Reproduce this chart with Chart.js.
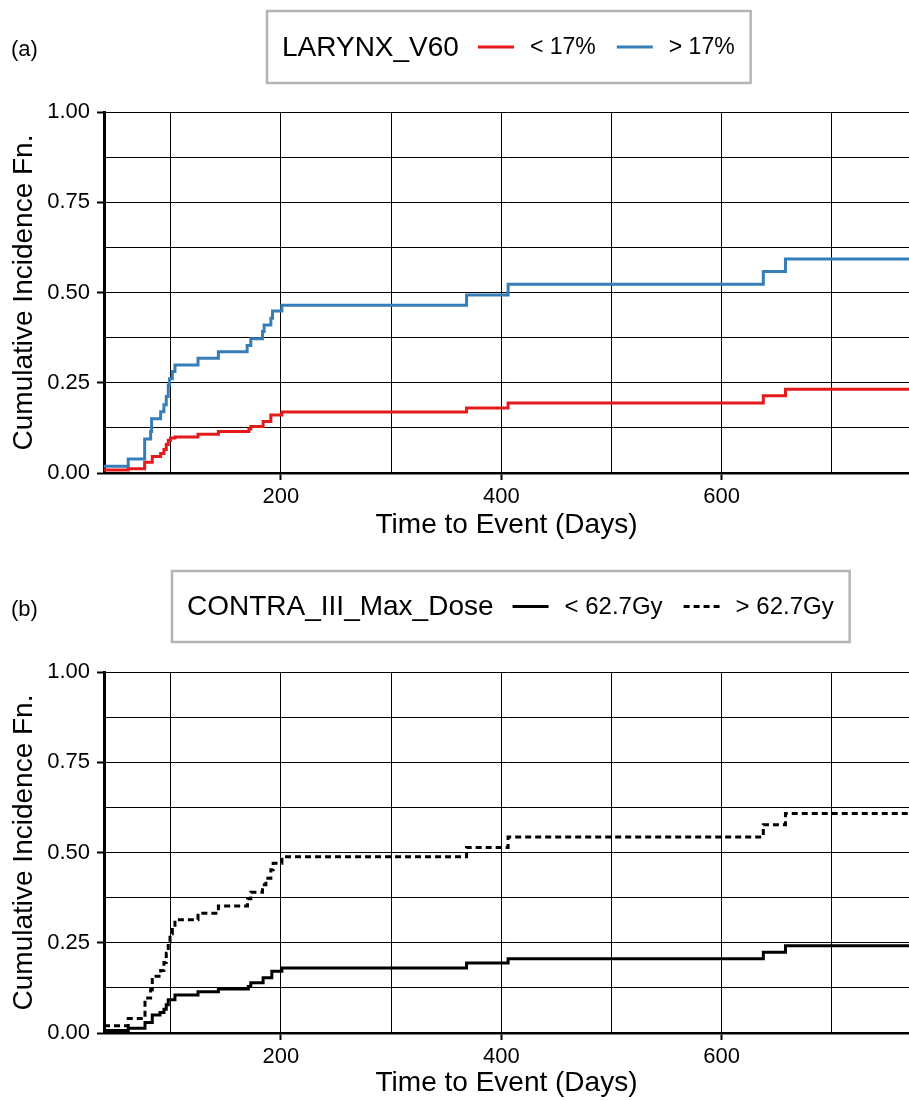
<!DOCTYPE html>
<html lang="en">
<head>
<meta charset="UTF-8">
<title>Cumulative Incidence</title>
<script src="https://cdn.jsdelivr.net/npm/chart.js"></script>
<style>
  body {
    margin: 0;
    background: #fff;
  }
  .panel {
    width: 909px;
    height: 550px;
  }
</style>
</head>
<body>
<div class="panel"><canvas id="chartA" width="909" height="550"></canvas></div>
<div class="panel"><canvas id="chartB" width="909" height="550"></canvas></div>
<script>
// axis ranges and ticks
const xMin = 39.5, xMax = 770;
const xGrid = [100, 200, 300, 400, 500, 600, 700];
const xLabels = [200, 400, 600];
const yGrid = [0, 0.125, 0.25, 0.375, 0.5, 0.625, 0.75, 0.875, 1];
const yLabels = [0, 0.25, 0.5, 0.75, 1];

// (a) LARYNX_V60
const larynxLowDays = [39.5, 61.5, 76.4, 83.3, 90.9, 93.9, 96, 97.8, 99.9, 103.9, 124.8, 143.3, 171, 172.7, 183.9, 190.9, 200.9, 368.5, 406.2, 637.8, 657.9, 770];
const larynxLowCif  = [0.008, 0.012, 0.030, 0.046, 0.054, 0.065, 0.079, 0.091, 0.097, 0.100, 0.107, 0.115, 0.122, 0.129, 0.143, 0.161, 0.169, 0.180, 0.194, 0.214, 0.232, 0.232];
const larynxHighDays = [39.5, 61.5, 76.4, 81.8, 82.7, 90.9, 93.9, 96, 97.8, 99, 101.5, 103.9, 124.8, 143.3, 169.4, 172.7, 183.3, 184.8, 190.9, 192.4, 200.9, 368.5, 406.2, 637.8, 657.9, 770];
const larynxHighCif  = [0.019, 0.039, 0.094, 0.115, 0.150, 0.170, 0.189, 0.212, 0.244, 0.261, 0.281, 0.299, 0.318, 0.336, 0.353, 0.372, 0.392, 0.410, 0.429, 0.449, 0.465, 0.493, 0.523, 0.558, 0.593, 0.593];

// (b) CONTRA_III_Max_Dose
const contraLowDays = [39.5, 61.5, 76.7, 83.3, 90.3, 93.9, 96, 97.8, 103.9, 124.8, 143.3, 170.5, 172.7, 183.9, 191.8, 200.9, 368.5, 406.2, 637.8, 657.9, 770];
const contraLowCif  = [0.007, 0.013, 0.029, 0.050, 0.057, 0.066, 0.078, 0.092, 0.105, 0.114, 0.122, 0.129, 0.139, 0.153, 0.171, 0.180, 0.194, 0.206, 0.224, 0.242, 0.242];
const contraHighDays = [39.5, 61.5, 76.7, 81.8, 83.3, 90.9, 93.9, 96, 97.8, 99.4, 101.5, 103.9, 124.8, 143.3, 169.7, 172.7, 183.3, 186.4, 190.9, 193, 200.9, 368.5, 406.2, 637.8, 657.9, 770];
const contraHighCif  = [0.020, 0.040, 0.097, 0.120, 0.157, 0.173, 0.195, 0.221, 0.253, 0.275, 0.291, 0.314, 0.332, 0.352, 0.372, 0.390, 0.411, 0.429, 0.452, 0.470, 0.488, 0.514, 0.543, 0.577, 0.608, 0.608];

const FONT = '"Liberation Sans", Arial, sans-serif';
const NONE = 'rgba(0,0,0,0)';
Chart.defaults.font.family = FONT;
Chart.defaults.color = '#000';

function toPoints(days, cif) {
  return days.map((d, i) => ({ x: d, y: cif[i] }));
}

// boxed legend drawn on top, like the ggplot one
const boxLegend = {
  id: 'boxLegend',
  afterDraw(chart, args, opts) {
    const ctx = chart.ctx;
    ctx.save();
    ctx.fillStyle = '#000';
    ctx.textBaseline = 'middle';
    ctx.font = '22px ' + FONT;
    ctx.fillText(opts.tag, 11, opts.tagY);

    const cy = opts.top + opts.height / 2;
    const items = chart.data.datasets;
    ctx.font = opts.titleSize + 'px ' + FONT;
    const tw = ctx.measureText(opts.title).width;
    ctx.font = opts.labelSize + 'px ' + FONT;
    const lw = items.map(d => ctx.measureText(d.label).width);
    let w = 15 + tw + 19 + 16;
    lw.forEach((v, i) => { w += 36 + 16 + v + (i < lw.length - 1 ? 21 : 0); });

    ctx.strokeStyle = '#b5b5b5';
    ctx.lineWidth = 2.5;
    ctx.strokeRect(opts.left, opts.top, w, opts.height);

    let x = opts.left + 15;
    ctx.font = opts.titleSize + 'px ' + FONT;
    ctx.fillText(opts.title, x, cy + 1);
    x += tw + 19;
    ctx.font = opts.labelSize + 'px ' + FONT;
    items.forEach((d, i) => {
      ctx.beginPath();
      ctx.strokeStyle = d.borderColor;
      ctx.lineWidth = 3;
      ctx.setLineDash(d.borderDash || []);
      ctx.moveTo(x, cy);
      ctx.lineTo(x + 36, cy);
      ctx.stroke();
      ctx.setLineDash([]);
      x += 36 + 16;
      ctx.fillText(d.label, x, cy + 1);
      x += lw[i] + 21;
    });
    ctx.restore();
  }
};

function makeChart(id, datasets, legendOpts, layout) {
  const ctx = document.getElementById(id).getContext('2d');
  return new Chart(ctx, {
    type: 'line',
    data: { datasets: datasets },
    options: {
      responsive: false,
      animation: false,
      layout: { padding: { top: layout.top, left: 0, right: 0, bottom: 0 } },
      plugins: {
        legend: { display: false },
        tooltip: { enabled: false },
        boxLegend: legendOpts
      },
      elements: { point: { radius: 0 } },
      scales: {
        x: {
          type: 'linear',
          min: xMin,
          max: xMax,
          afterBuildTicks: s => { s.ticks = xGrid.map(v => ({ value: v })); },
          afterFit: s => { s.height = layout.xHeight; },
          ticks: {
            autoSkip: false,
            maxRotation: 0,
            padding: 4,
            color: '#000',
            font: { size: 22 },
            callback: v => xLabels.includes(v) ? String(v) : ''
          },
          grid: {
            color: '#000',
            lineWidth: 1,
            tickLength: 7,
            tickWidth: 2,
            tickColor: c => (c.tick && xLabels.includes(c.tick.value)) ? '#000' : NONE
          },
          border: { color: '#000', width: 2.5 },
          title: {
            display: true,
            text: 'Time to Event (Days)',
            color: '#000',
            font: { size: 28 },
            padding: { top: 0, bottom: layout.xTitlePad }
          }
        },
        y: {
          min: 0,
          max: 1,
          afterBuildTicks: s => { s.ticks = yGrid.map(v => ({ value: v })); },
          afterFit: s => { s.width = 104; },
          ticks: {
            padding: 7,
            color: '#000',
            font: { size: 22 },
            callback: v => yLabels.includes(v) ? v.toFixed(2) : ''
          },
          grid: {
            color: '#000',
            lineWidth: 1,
            tickLength: 7,
            tickWidth: 2,
            tickColor: c => (c.tick && yLabels.includes(c.tick.value)) ? '#000' : NONE
          },
          border: { color: '#000', width: 3 },
          title: {
            display: true,
            text: 'Cumulative Incidence Fn.',
            color: '#000',
            font: { size: 28 },
            padding: { top: 7, bottom: 0 }
          }
        }
      }
    },
    plugins: [boxLegend]
  });
}

makeChart('chartA', [
  {
    label: '< 17%',
    data: toPoints(larynxLowDays, larynxLowCif),
    borderColor: '#e41a1c',
    borderWidth: 3,
    stepped: true,
    fill: false
  },
  {
    label: '> 17%',
    data: toPoints(larynxHighDays, larynxHighCif),
    borderColor: '#377eb8',
    borderWidth: 3,
    stepped: true,
    fill: false
  }
], { tag: '(a)', tagY: 50, title: 'LARYNX_V60', titleSize: 28, labelSize: 23, left: 267, top: 11, height: 72 },
   { top: 112, xHeight: 77, xTitlePad: 8 });

makeChart('chartB', [
  {
    label: '< 62.7Gy',
    data: toPoints(contraLowDays, contraLowCif),
    borderColor: '#000',
    borderWidth: 3,
    stepped: true,
    fill: false
  },
  {
    label: '> 62.7Gy',
    data: toPoints(contraHighDays, contraHighCif),
    borderColor: '#000',
    borderWidth: 3,
    borderDash: [6, 4],
    stepped: true,
    fill: false
  }
], { tag: '(b)', tagY: 60, title: 'CONTRA_III_Max_Dose', titleSize: 28, labelSize: 24, left: 172, top: 21, height: 71 },
   { top: 122, xHeight: 67, xTitlePad: 0 });
</script>
</body>
</html>
